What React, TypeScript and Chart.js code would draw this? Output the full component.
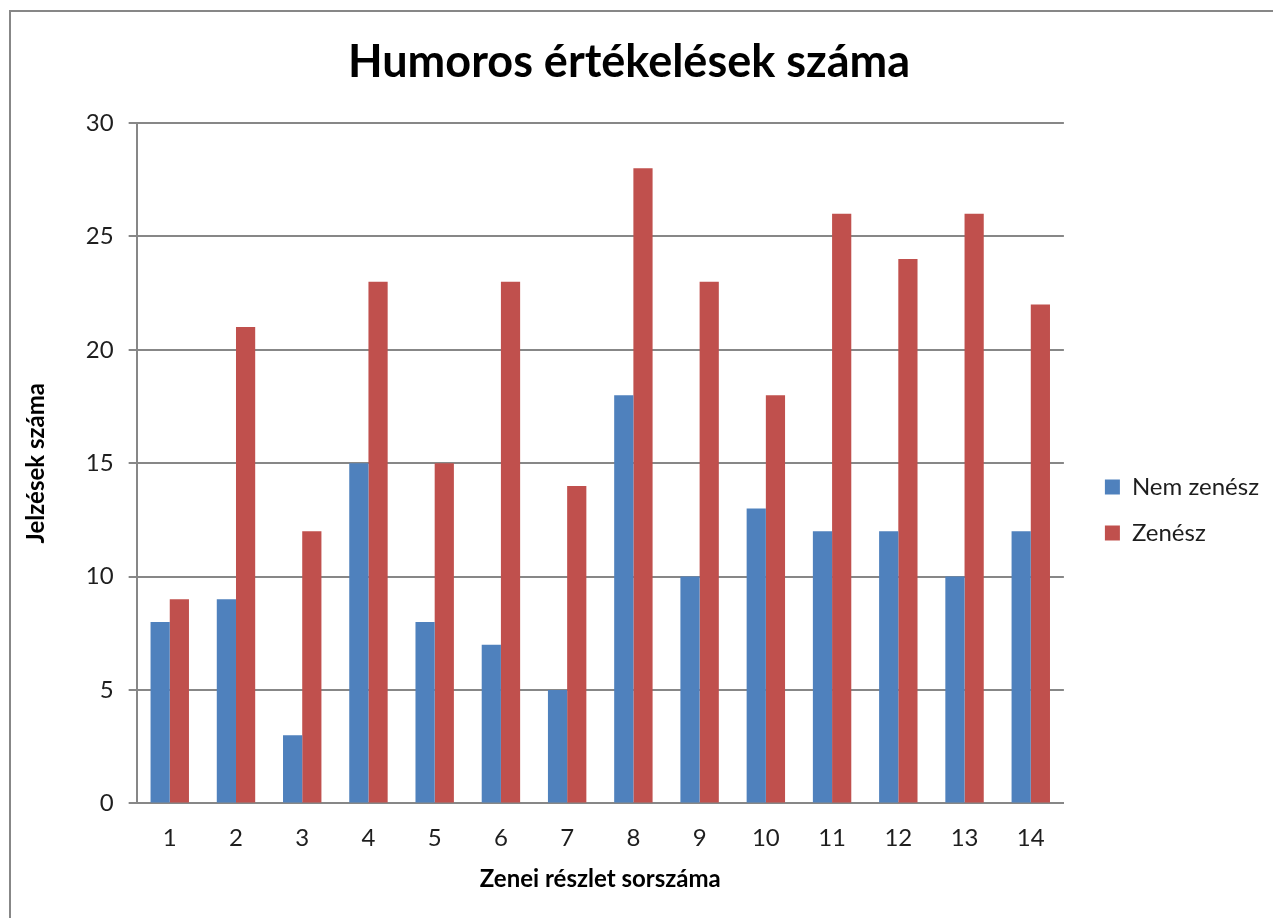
import React, { useEffect, useRef } from 'react';
import { Chart, registerables } from 'chart.js';

Chart.register(...registerables);

const categories = ['1', '2', '3', '4', '5', '6', '7', '8', '9', '10', '11', '12', '13', '14'];
const nemZenesz = [8, 9, 3, 15, 8, 7, 5, 18, 10, 13, 12, 12, 10, 12];
const zenesz = [9, 21, 12, 23, 15, 23, 14, 28, 23, 18, 26, 24, 26, 22];
const seriesNames = ['Nem zenész', 'Zenész'];
const yMin = 0;
const yMax = 30;
const yStep = 5;

const FONT = 'Lato';
const GRID = '#878787';
const TEXT = '#1e1e1e';

const legendShift = {
  id: 'legendShift',
  afterLayout(chart: any) {
    const lg = chart.legend;
    if (lg) {
      lg.left += 19;
      lg.right += 19;
      lg.top += 46;
      lg.bottom += 46;
    }
  },
};

export default function App() {
  const ref = useRef<HTMLCanvasElement>(null);

  useEffect(() => {
    if (!ref.current) return;
    const chart = new Chart(ref.current, {
      type: 'bar',
      data: {
        labels: categories,
        datasets: [
          {
            label: seriesNames[0],
            data: nemZenesz,
            backgroundColor: '#4F81BD',
            categoryPercentage: 0.58,
            barPercentage: 1.0,
          },
          {
            label: seriesNames[1],
            data: zenesz,
            backgroundColor: '#C0504D',
            categoryPercentage: 0.58,
            barPercentage: 1.0,
          },
        ],
      },
      plugins: [legendShift],
      options: {
        responsive: false,
        animation: false,
        layout: { padding: { left: 8, top: 10, right: 23, bottom: 0 } },
        plugins: {
          title: {
            display: true,
            text: 'Humoros értékelések száma',
            color: '#000',
            font: { family: FONT, size: 45, weight: 'bold' },
            padding: { top: 25, bottom: 34 },
          },
          legend: {
            position: 'right',
            labels: {
              boxWidth: 15,
              boxHeight: 15,
              padding: 22,
              color: TEXT,
              font: { family: FONT, size: 24 },
            },
          },
          tooltip: { enabled: false },
        },
        scales: {
          x: {
            grid: { display: true, color: 'rgba(0,0,0,0)', drawOnChartArea: false, drawTicks: true, tickLength: 20 },
            border: { display: true, color: GRID, width: 2 },
            ticks: {
              color: TEXT,
              font: { family: FONT, size: 24 },
              padding: 0,
              maxRotation: 0,
            },
            title: {
              display: true,
              text: 'Zenei részlet sorszáma',
              color: '#000',
              font: { family: FONT, size: 24, weight: 'bold' },
              padding: { top: 13, bottom: 24 },
            },
          },
          y: {
            min: yMin,
            max: yMax,
            grid: { color: GRID, lineWidth: 2, tickLength: 8, drawTicks: true },
            border: { display: true, color: GRID, width: 2 },
            ticks: {
              stepSize: yStep,
              color: TEXT,
              font: { family: FONT, size: 24 },
              padding: 15,
            },
            title: {
              display: true,
              text: 'Jelzések száma',
              color: '#000',
              font: { family: FONT, size: 24, weight: 'bold' },
              padding: { top: 14, bottom: 20 },
            },
          },
        },
      },
    });
    return () => chart.destroy();
  }, []);

  return (
    <div style={{ position: 'fixed', left: 0, top: 0, width: 1273, height: 918, overflow: 'hidden', background: '#fff' }}>
      <canvas ref={ref} width={1273} height={918} style={{ display: 'block' }} />
      <div
        style={{
          position: 'absolute',
          left: 9,
          top: 10,
          width: 1400,
          height: 1000,
          borderLeft: `2px solid ${GRID}`,
          borderTop: `2px solid ${GRID}`,
          pointerEvents: 'none',
        }}
      />
    </div>
  );
}
